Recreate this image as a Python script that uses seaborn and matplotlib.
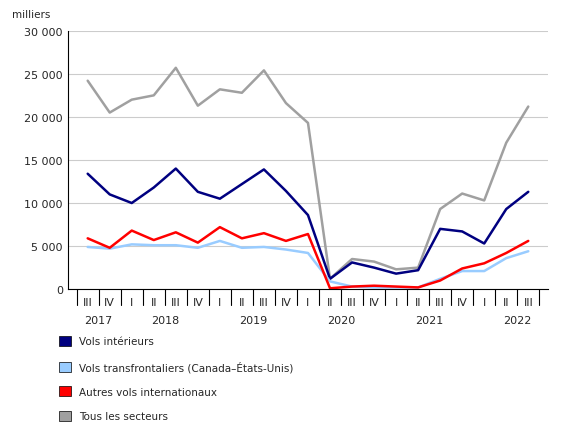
import matplotlib
matplotlib.use("Agg")
import matplotlib.pyplot as plt
import seaborn as sns
import pandas as pd
import numpy as np
from matplotlib.patches import Patch

quarters = ["III","IV","I","II","III","IV","I","II","III","IV","I","II","III","IV","I","II","III","IV","I","II","III"]
years = ["2017","2018","2019","2020","2021","2022"]
year_pos = [0.5, 3.5, 7.5, 11.5, 15.5, 19.5]
tous = [24200,20500,22000,22500,25700,21300,23200,22800,25400,21600,19300,1200,3500,3200,2300,2500,9300,11100,10300,17000,21200]
interieurs = [13400,11000,10000,11800,14000,11300,10500,12200,13900,11400,8600,1200,3100,2500,1800,2200,7000,6700,5300,9300,11300]
autres = [5900,4800,6800,5700,6600,5400,7200,5900,6500,5600,6400,100,300,400,300,200,1000,2400,3000,4200,5600]
transfront = [4900,4700,5200,5100,5100,4800,5600,4800,4900,4600,4200,900,300,200,200,200,1200,2100,2100,3600,4400]

names = ["Vols intérieurs","Vols transfrontaliers (Canada–États-Unis)","Autres vols internationaux","Tous les secteurs"]
colors = ["#000080","#99ccff","#ff0000","#a0a0a0"]
series = [interieurs, transfront, autres, tous]

sns.set_style("white")
plt.rcParams['font.family'] = ['Verdana', 'DejaVu Sans']
fig = plt.figure(figsize=(5.8,4.35), dpi=100)
ax = fig.add_axes([0.117, 0.333, 0.828, 0.594])
x = np.arange(len(quarters))
order = [3,0,1,2]
for i in order:
    df = pd.DataFrame({"x": x, "y": series[i]})
    sns.lineplot(data=df, x="x", y="y", color=colors[i], lw=1.8, ax=ax)
ax.set_xlim(-0.9, len(quarters)-0.1)
ax.set_ylim(0, 30000)
ax.set_yticks(range(0,30001,5000))
ax.set_yticklabels([f"{v:,}".replace(",", " ") for v in range(0,30001,5000)], fontsize=8)
ax.set_xticks(x)
ax.set_xticklabels(quarters, fontsize=8)
ax.tick_params(axis='x', length=0, pad=6)
ax.tick_params(axis='y', length=0)
ax.set_xlabel(""); ax.set_ylabel("")
ax.grid(axis='y', color='#cccccc', lw=0.8)
for s in ["top","right"]:
    ax.spines[s].set_visible(False)
ax.spines["left"].set_color("black"); ax.spines["bottom"].set_color("black")
for b in np.arange(-0.5, len(quarters), 1):
    ax.plot([b,b],[0,-1800], color="black", lw=0.8, clip_on=False)
for p, yr in zip(year_pos, years):
    ax.text(p, -0.1, yr, transform=ax.get_xaxis_transform(), ha="center", va="top", fontsize=8)
fig.text(0.02, 0.965, "milliers", fontsize=7.5, va="center")
handles = [Patch(facecolor=c, edgecolor="black", lw=0.5) for c in colors]
fig.legend(handles, names, loc="upper left", bbox_to_anchor=(0.095, 0.235), frameon=False,
           fontsize=7.5, handlelength=1.1, handleheight=1.1, labelspacing=1.35, borderaxespad=0)
fig.savefig("out.png", dpi=100)
